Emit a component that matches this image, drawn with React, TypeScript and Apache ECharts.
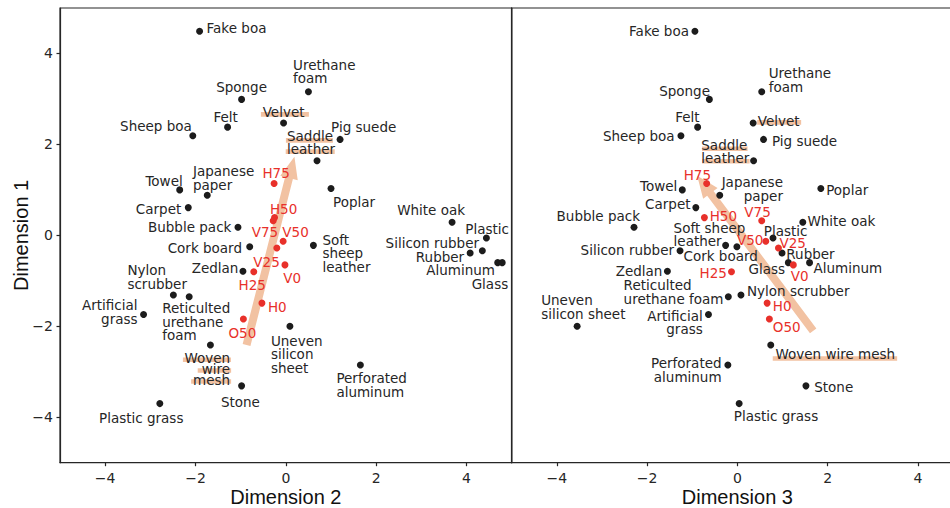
import { useEffect, useRef } from 'react';
import * as echarts from 'echarts';

// ---------- data ----------
const materials = [
  'Fake boa', 'Urethane foam', 'Sponge', 'Velvet', 'Felt', 'Sheep boa', 'Pig suede',
  'Saddle leather', 'Poplar', 'Towel', 'Japanese paper', 'Carpet', 'White oak',
  'Bubble pack', 'Plastic', 'Soft sheep leather', 'Cork board', 'Silicon rubber',
  'Rubber', 'Aluminum', 'Glass', 'Zedlan', 'Nylon scrubber', 'Reticulated urethane foam',
  'Artificial grass', 'Uneven silicon sheet', 'Woven wire mesh', 'Perforated aluminum',
  'Stone', 'Plastic grass',
];
const dim1 = [4.49, 3.16, 2.99, 2.47, 2.38, 2.19, 2.11, 1.64, 1.03, 1.0, 0.88, 0.61, 0.29,
  0.18, -0.06, -0.22, -0.25, -0.34, -0.39, -0.6, -0.6, -0.79, -1.31, -1.35, -1.74, -2.0,
  -2.41, -2.85, -3.31, -3.7];
const dim2 = [-1.91, 0.5, -0.98, -0.05, -1.29, -2.06, 1.2, 0.69, 1.0, -2.35, -1.74, -2.16, 3.68,
  -1.06, 4.44, 0.61, -0.8, 4.35, 4.08, 4.69, 4.79, -0.95, -2.49, -2.14, -3.15, 0.09,
  -1.67, 1.65, -0.98, -2.79];
const dim3 = [-0.94, 0.54, -0.62, 0.35, -0.88, -1.25, 0.58, 0.36, 1.85, -1.22, -0.39, -0.92, 1.45,
  -2.29, 0.79, -0.26, -0.01, -1.27, 0.99, 1.6, 1.13, -1.55, 0.08, -0.2, -0.64, -3.55,
  0.74, -0.21, 1.52, 0.04];

const conditions = ['H75', 'H50', 'V75', 'V50', 'V25', 'V0', 'H25', 'H0', 'O50'];
const condDim1 = [1.14, 0.39, 0.32, -0.13, -0.28, -0.65, -0.8, -1.49, -1.84];
const condDim2 = [-0.26, -0.25, -0.28, -0.06, -0.2, -0.02, -0.71, -0.53, -0.94];
const condDim3 = [-0.68, -0.73, 0.54, 0.63, 0.91, 1.24, -0.13, 0.66, 0.71];

const axisTicks = [-4, -2, 0, 2, 4];
// arrows: [start x, start y, end x, end y]
const arrowDim2 = [-0.87, -2.41, 0.19, 1.73];
const arrowDim3 = [1.68, -2.1, -0.89, 1.31];

// ---------- label layout (pixel offsets from marker) ----------
type Lab = [number, number, string, string?, number?];
const layoutDim2: Record<string, Lab> = {
  'Fake boa': [7, -5, 'left'],
  'Urethane foam': [-15.4, -21.5, 'left', 'Urethane\nfoam'],
  'Sponge': [0, -13.7, 'center'],
  'Velvet': [0, -12.3, 'center'],
  'Felt': [-2, -11.3, 'center'],
  'Sheep boa': [-1, -11.4, 'right'],
  'Pig suede': [-9, -14.3, 'left'],
  'Saddle leather': [-30, -19.7, 'left', 'Saddle\nleather'],
  'Poplar': [2, 11.7, 'left'],
  'Towel': [3, -10.7, 'right'],
  'Japanese paper': [-14.3, -18.6, 'left', 'Japanese\npaper'],
  'Carpet': [-7, 0, 'right'],
  'White oak': [13, -13.7, 'right'],
  'Bubble pack': [-6.6, -1.7, 'right'],
  'Plastic': [0.7, -10.3, 'center'],
  'Soft sheep leather': [9, 6.2, 'left', 'Soft\nsheep\nleather'],
  'Cork board': [-7.7, 0, 'right'],
  'Silicon rubber': [-3.3, -9, 'right'],
  'Rubber': [-6, 2, 'right'],
  'Aluminum': [-2.7, 6, 'right'],
  'Glass': [6, 19.6, 'right'],
  'Zedlan': [-4.6, -5, 'right'],
  'Nylon scrubber': [-46, -19.4, 'left', 'Nylon\nscrubber'],
  'Reticulated urethane foam': [-27, 23.6, 'left', 'Reticulted\nurethane\nfoam'],
  'Artificial grass': [-6, -4, 'right', 'Artificial\ngrass'],
  'Uneven silicon sheet': [-19, 26.5, 'left', 'Uneven\nsilicon\nsheet'],
  'Woven wire mesh': [19.7, 22.6, 'right', 'Woven\nwire\nmesh', 11],
  'Perforated aluminum': [-24, 18.8, 'left', 'Perforated\naluminum'],
  'Stone': [-1.2, 15, 'center'],
  'Plastic grass': [-18.6, 12.6, 'center'],
  'H75': [2, -12, 'center'],
  'H50': [9, -10.6, 'center'],
  'V75': [-8.3, 10, 'center'],
  'V50': [12.4, -10.6, 'center'],
  'V25': [-10.3, 12, 'center'],
  'V0': [7.2, 12, 'center'],
  'H25': [-1.5, 11.6, 'center'],
  'H0': [6, 2.7, 'left'],
  'O50': [-1, 12.7, 'center'],
};
const layoutDim3: Record<string, Lab> = {
  'Fake boa': [-6, -1.3, 'right'],
  'Urethane foam': [7, -13, 'left', 'Urethane\nfoam'],
  'Sponge': [0.6, -10.3, 'right'],
  'Felt': [2, -11.3, 'right'],
  'Velvet': [4.6, -4, 'left'],
  'Sheep boa': [-6.3, -1, 'right'],
  'Pig suede': [8.4, 0.4, 'left'],
  'Saddle leather': [-52.3, -10.9, 'left', 'Saddle\nleather'],
  'Towel': [-5, -5.7, 'right'],
  'Japanese paper': [63.2, -7.8, 'right', 'Japanese\npaper'],
  'Poplar': [5.3, 0, 'left'],
  'Carpet': [-5.3, -5, 'right'],
  'White oak': [4.6, -3, 'left'],
  'Bubble pack': [6, -13, 'right'],
  'Soft sheep leather': [-52, -12.3, 'left', 'Soft sheep\nleather'],
  'Plastic': [12.6, -9, 'center'],
  'Silicon rubber': [-6, -2.4, 'right'],
  'Cork board': [-53.4, 8, 'left'],
  'Rubber': [4.3, -0.7, 'left'],
  'Glass': [-3.3, 5.3, 'right'],
  'Aluminum': [4, 4.3, 'left'],
  'Zedlan': [-5, -1.3, 'right'],
  'Reticulated urethane foam': [-104.7, -6, 'left', 'Reticulted\nurethane foam'],
  'Nylon scrubber': [6, -5.3, 'left'],
  'Uneven silicon sheet': [-36, -20.6, 'left', 'Uneven\nsilicon sheet'],
  'Artificial grass': [-5.7, 6.7, 'right', 'Artificial\ngrass'],
  'Woven wire mesh': [4.7, 7.6, 'left'],
  'Perforated aluminum': [-6.3, 3.5, 'right', 'Perforated\naluminum'],
  'Stone': [8.3, 0, 'left'],
  'Plastic grass': [-5.4, 11.3, 'left'],
  'H75': [-9.3, -10.3, 'center'],
  'H50': [5.3, -2.7, 'left'],
  'V75': [-4.2, -10.3, 'center'],
  'V50': [-2.4, -2.3, 'right'],
  'V25': [1, -6.7, 'left'],
  'V0': [6.4, 9.7, 'center'],
  'H25': [-4.6, 0, 'right'],
  'H0': [5.7, 1, 'left'],
  'O50': [3.4, 6.3, 'left'],
};
// highlight bars: [material, dx, dy, width]
const barsDim2: [string, number, number, number][] = [
  ['Velvet', 1.3, -8.7, 48],
  ['Saddle leather', -7.6, -20.4, 47],
  ['Saddle leather', -6.8, -9.2, 49],
  ['Woven wire mesh', -3.5, 14.8, 48],
  ['Woven wire mesh', 4, 25.6, 33.4],
  ['Woven wire mesh', 0.7, 36.5, 40],
];
const barsDim3: [string, number, number, number][] = [
  ['Velvet', 26, -0.7, 44],
  ['Saddle leather', -28.8, -12, 45.6],
  ['Saddle leather', -27.8, 0.5, 47.6],
  ['Woven wire mesh', 64.2, 13.5, 124.4],
];

const TEXT = '#262626';
const RED = '#e8302a';
const DOT = '#1c1c1c';
const PEACH = '#f2c2a2';
const FONT = 'DejaVu Sans';
const LABEL_SHIFT = 1.5;

const fmt = (v: number) => (v < 0 ? '\u2212' + Math.abs(v) : String(v));

function pointSeries(names: string[], ys: number[], xs: number[], layout: Record<string, Lab>, idx: number, color: string) {
  return {
    type: 'scatter',
    xAxisIndex: idx,
    yAxisIndex: idx,
    z: 3,
    symbolSize: 7,
    itemStyle: { color, opacity: 1 },
    label: {
      show: true,
      position: 'inside',
      fontFamily: FONT,
      fontSize: 13.5,
      lineHeight: 13.5,
      color: color === RED ? RED : TEXT,
      verticalAlign: 'middle',
      formatter: (p: any) => p.name,
    },
    emphasis: { disabled: true },
    data: names.map((n, i) => {
      const l = layout[n];
      return {
        name: l[3] ?? n,
        value: [xs[i], ys[i]],
        label: { offset: [l[0], l[1] + LABEL_SHIFT], align: l[2], ...(l[4] ? { lineHeight: l[4] } : {}) },
      };
    }),
  };
}

function barSeries(bars: [string, number, number, number][], xs: number[], idx: number) {
  return {
    type: 'scatter',
    xAxisIndex: idx,
    yAxisIndex: idx,
    z: 1,
    silent: true,
    symbol: 'rect',
    itemStyle: { color: PEACH, opacity: 1 },
    emphasis: { disabled: true },
    data: bars.map(([n, dx, dy, w]) => {
      const i = materials.indexOf(n);
      return { value: [xs[i], dim1[i]], symbolSize: [w, 4.6], symbolOffset: [dx, dy] };
    }),
  };
}

function arrowSeries(arrow: number[], idx: number) {
  return {
    type: 'custom',
    xAxisIndex: idx,
    yAxisIndex: idx,
    z: 1,
    silent: true,
    encode: { x: [0, 2], y: [1, 3] },
    data: [arrow],
    renderItem: (_p: any, api: any) => {
      const a = api.coord([api.value(0), api.value(1)]);
      const b = api.coord([api.value(2), api.value(3)]);
      const dx = b[0] - a[0];
      const dy = b[1] - a[1];
      const L = Math.hypot(dx, dy);
      const ux = dx / L, uy = dy / L;
      const px = -uy, py = ux;
      const hw = 4, hh = 9, hl = 22;
      const nx = b[0] - ux * hl, ny = b[1] - uy * hl;
      const points = [
        [a[0] + px * hw, a[1] + py * hw],
        [nx + px * hw, ny + py * hw],
        [nx + px * hh, ny + py * hh],
        [b[0], b[1]],
        [nx - px * hh, ny - py * hh],
        [nx - px * hw, ny - py * hw],
        [a[0] - px * hw, a[1] - py * hw],
      ];
      return { type: 'polygon', shape: { points }, style: { fill: PEACH } };
    },
  };
}

function xAxis(idx: number, name: string) {
  return {
    type: 'value',
    gridIndex: idx,
    min: -5,
    max: 5,
    splitLine: { show: false },
    axisLine: { show: true, onZero: false, lineStyle: { color: TEXT, width: 1.2 } },
    axisTick: { show: true, length: 3.5, lineStyle: { color: TEXT, width: 1.2 }, customValues: axisTicks },
    axisLabel: { customValues: axisTicks, formatter: fmt, fontFamily: FONT, fontSize: 14, color: TEXT, margin: 8 },
    name,
    nameLocation: 'middle',
    nameGap: 24,
    nameMoveOverlap: false,
    nameTextStyle: { fontFamily: 'Liberation Sans', fontSize: 20, color: '#111' },
  };
}

function yAxis(idx: number, show: boolean) {
  return {
    type: 'value',
    gridIndex: idx,
    min: -5,
    max: 5,
    splitLine: { show: false },
    axisLine: { show: true, onZero: false, lineStyle: { color: TEXT, width: 1.2 } },
    axisTick: { show, length: 3.5, lineStyle: { color: TEXT, width: 1.2 }, customValues: axisTicks },
    axisLabel: { show, customValues: axisTicks, formatter: fmt, fontFamily: FONT, fontSize: 14, color: TEXT, margin: 7 },
    name: show ? 'Dimension 1' : '',
    nameLocation: 'middle',
    nameGap: 29,
    nameMoveOverlap: false,
    nameTextStyle: { fontFamily: 'Liberation Sans', fontSize: 20, color: '#111' },
  };
}

export default function App() {
  const ref = useRef<HTMLDivElement>(null);
  useEffect(() => {
    if (!ref.current) return;
    const chart = echarts.init(ref.current, undefined, { renderer: 'svg' });
    chart.setOption({
      animation: false,
      backgroundColor: '#ffffff',
      grid: [
        { left: 60, top: 8, width: 451.7, height: 454.7, show: true, borderColor: TEXT, borderWidth: 1.2, containLabel: false, outerBoundsMode: 'none' },
        { left: 511.7, top: 8, width: 451.3, height: 454.7, show: true, borderColor: TEXT, borderWidth: 1.2, containLabel: false, outerBoundsMode: 'none' },
      ],
      xAxis: [xAxis(0, 'Dimension 2'), xAxis(1, 'Dimension 3')],
      yAxis: [yAxis(0, true), yAxis(1, false)],
      series: [
        arrowSeries(arrowDim2, 0),
        arrowSeries(arrowDim3, 1),
        barSeries(barsDim2, dim2, 0),
        barSeries(barsDim3, dim3, 1),
        pointSeries(materials, dim1, dim2, layoutDim2, 0, DOT),
        pointSeries(materials, dim1, dim3, layoutDim3, 1, DOT),
        pointSeries(conditions, condDim1, condDim2, layoutDim2, 0, RED),
        pointSeries(conditions, condDim1, condDim3, layoutDim3, 1, RED),
      ],
    });
    return () => chart.dispose();
  }, []);
  return (
    <div
      ref={ref}
      style={{ position: 'absolute', left: 0, top: 0, width: 950, height: 508, overflow: 'hidden' }}
    />
  );
}
